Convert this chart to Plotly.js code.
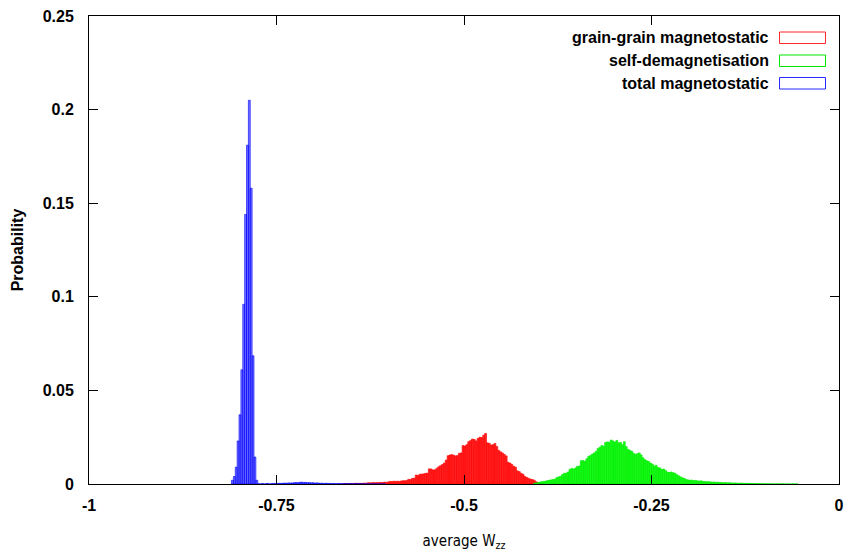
<!DOCTYPE html>
<html>
<head>
<meta charset="utf-8">
<script src="https://cdn.plot.ly/plotly-3.0.1.min.js"></script>
<style>html,body{margin:0;padding:0;background:#fff;}#chart{width:849px;height:551px;}</style>
</head>
<body>
<div id="chart"></div>
<script>
// Histogram bin width and first bin centre of each series (data units of average Wzz)
const binWidth = 0.0025;
const seriesNames = ["grain-grain magnetostatic", "self-demagnetisation", "total magnetostatic"];

// grain-grain magnetostatic (red)
const redStart = -0.66125;
const redValues = [
  0.0001,0.0002,0.0001,0.0002,0.0003,0.0002,0.0003,0.0004,0.0003,0.0004,
  0.0003,0.0005,0.0004,0.0006,0.0007,0.0006,0.0008,0.0007,0.0008,0.0007,
  0.0009,0.0008,0.0010,0.0009,0.0011,0.0014,0.0013,0.0015,0.0014,0.0015,
  0.0014,0.0016,0.0018,0.0017,0.0019,0.0025,0.0024,0.0030,0.0031,0.0048,
  0.0046,0.0052,0.0053,0.0054,0.0057,0.0058,0.0081,0.0080,0.0075,0.0076,
  0.0084,0.0092,0.0098,0.0104,0.0112,0.0128,0.0151,0.0155,0.0157,0.0154,
  0.0150,0.0152,0.0164,0.0166,0.0205,0.0203,0.0210,0.0226,0.0232,0.0240,
  0.0238,0.0230,0.0244,0.0250,0.0248,0.0261,0.0270,0.0220,0.0217,0.0208,
  0.0210,0.0217,0.0200,0.0180,0.0172,0.0166,0.0158,0.0150,0.0116,0.0112,
  0.0105,0.0095,0.0090,0.0070,0.0066,0.0057,0.0052,0.0040,0.0035,0.0030,
  0.0026,0.0024,0.0020,0.0012,0.0008,0.0005,0.0003,0.0002
];

// self-demagnetisation (green)
const greenStart = -0.40625;
const greenValues = [
  0.0004,0.0006,0.0008,0.0010,0.0012,0.0014,0.0015,0.0018,0.0020,0.0022,
  0.0024,0.0026,0.0034,0.0038,0.0041,0.0050,0.0057,0.0058,0.0064,0.0078,
  0.0083,0.0080,0.0086,0.0094,0.0096,0.0124,0.0125,0.0122,0.0135,0.0148,
  0.0152,0.0160,0.0166,0.0175,0.0190,0.0196,0.0206,0.0202,0.0222,0.0225,
  0.0223,0.0235,0.0230,0.0224,0.0233,0.0220,0.0222,0.0210,0.0226,0.0200,
  0.0185,0.0180,0.0175,0.0164,0.0158,0.0162,0.0166,0.0155,0.0140,0.0130,
  0.0124,0.0120,0.0112,0.0106,0.0096,0.0100,0.0088,0.0086,0.0078,0.0080,
  0.0072,0.0064,0.0062,0.0064,0.0060,0.0058,0.0050,0.0044,0.0038,0.0033,
  0.0030,0.0024,0.0022,0.0020,0.0021,0.0018,0.0019,0.0017,0.0016,0.0017,
  0.0014,0.0013,0.0012,0.0013,0.0011,0.0010,0.0011,0.0009,0.0010,0.0008,
  0.0008,0.0007,0.0008,0.0006,0.0007,0.0006,0.0005,0.0006,0.0005,0.0004,
  0.0005,0.0004,0.0004,0.0003,0.0004,0.0003,0.0003,0.0002,0.0003,0.0002,
  0.0002,0.0002,0.0001,0.0002,0.0001,0.0001,0.0001,0.0001,0.0000,0.0001,
  0.0001,0.0000,0.0001,0.0001,0.0000,0.0001,0.0000,0.0000,0.0001,0.0000,
  0.0001
];

// total magnetostatic (blue)
const blueStart = -0.80875;
const blueValues = [
  0.0020,0.0040,0.0090,0.0230,0.0370,0.0610,0.0960,0.1440,0.1810,0.2050,
  0.1580,0.0685,0.0144,0.0020,
  0.0002,0.0000,0.0003,0.0000,0.0002,0.0003,0.0000,0.0002,0.0003,0.0002,
  0.0003,0.0004,0.0003,0.0004,0.0005,0.0004,0.0006,0.0005,
  0.0006,0.0007,0.0008,0.0007,0.0009,0.0010,0.0008,0.0009,0.0007,0.0008,
  0.0006,0.0007,0.0005,0.0006,0.0005,0.0004,
  0.0004,0.0003,0.0004,0.0003,0.0003,0.0002,0.0003,0.0002,0.0002,0.0003,
  0.0002,0.0001,0.0002,0.0002,0.0001,0.0002,0.0001,0.0001,0.0002,0.0001,
  0.0001,0.0001,0.0000,0.0001,0.0001,0.0000,0.0001,0.0000,0.0001,0.0000,
  0.0001,0.0000,0.0000,0.0001
];

const xTickVals = [-1, -0.75, -0.5, -0.25, 0];
const xTickText = ["-1", "-0.75", "-0.5", "-0.25", "0"];
const yTickVals = [0, 0.05, 0.1, 0.15, 0.2, 0.25];
const yTickText = ["0", "0.05", "0.1", "0.15", "0.2", "0.25"];

function centres(start, vals) { return vals.map((_, i) => start + i * binWidth); }

const colors = ["rgb(255,0,0)", "rgb(0,230,0)", "rgb(0,0,255)"];
const boxColors = ["rgb(255,40,40)", "rgb(0,230,0)", "rgb(40,40,255)"];
const fills = ["rgba(255,0,0,0.85)", "rgba(0,255,0,0.9)", "rgba(0,0,255,0.55)"];
const starts = [redStart, greenStart, blueStart];
const valueSets = [redValues, greenValues, blueValues];

const traces = valueSets.map((vals, k) => ({
  type: "bar",
  name: seriesNames[k],
  x: centres(starts[k], vals),
  y: vals,
  width: binWidth,
  marker: { color: fills[k], line: { color: colors[k], width: 0.6 } },
  showlegend: false,
  hoverinfo: "x+y"
}));

const fam = "Liberation Sans, Arial, sans-serif";
const boldFont = { family: fam, size: 16, color: "#000", weight: "bold" };

// legend drawn gnuplot-style: right-justified label, outlined box sample on the right
const legY = [0.953, 0.904, 0.855];
const boxY = [[0.9412, 0.9658], [0.8921, 0.9167], [0.8440, 0.8686]];
const annotations = seriesNames.map((n, k) => ({
  xref: "paper", yref: "paper", x: 0.909, y: legY[k],
  xanchor: "right", yanchor: "middle", showarrow: false,
  text: n, font: boldFont
}));
const shapes = seriesNames.map((n, k) => ({
  type: "rect", xref: "paper", yref: "paper",
  x0: 0.9207, x1: 0.982, y0: boxY[k][0], y1: boxY[k][1],
  line: { color: boxColors[k], width: 1 }, fillcolor: "rgba(0,0,0,0)"
}));

const layout = {
  width: 849, height: 551,
  margin: { l: 89, r: 10, t: 16, b: 67 },
  paper_bgcolor: "#fff", plot_bgcolor: "#fff",
  barmode: "overlay", bargap: 0,
  showlegend: false,
  font: { family: fam, size: 14, color: "#000" },
  xaxis: {
    range: [-1, 0], tickvals: xTickVals, ticktext: xTickText,
    showgrid: false, zeroline: false,
    showline: true, linecolor: "#000", linewidth: 1, mirror: "ticks",
    ticks: "inside", ticklen: 9, tickcolor: "#000", tickwidth: 1,
    ticklabelstandoff: 7,
    tickfont: boldFont,
    title: { text: "average W<sub>zz</sub>", font: { family: "Liberation Sans Narrow, DejaVu Sans Condensed, Arial, sans-serif", size: 15, color: "#000" }, standoff: 25 }
  },
  yaxis: {
    range: [0, 0.25], tickvals: yTickVals, ticktext: yTickText,
    showgrid: false, zeroline: false,
    showline: true, linecolor: "#000", linewidth: 1, mirror: "ticks",
    ticks: "inside", ticklen: 9, tickcolor: "#000", tickwidth: 1,
    ticklabelstandoff: 11,
    tickfont: boldFont,
    title: { text: "Probability", font: boldFont, standoff: 15 }
  },
  annotations: annotations,
  shapes: shapes
};

Plotly.newPlot("chart", traces, layout, { displayModeBar: false, staticPlot: true });
</script>
</body>
</html>
